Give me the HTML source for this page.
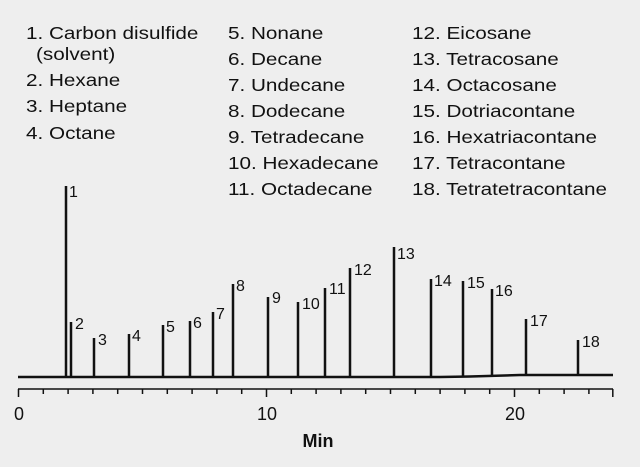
<!DOCTYPE html>
<html><head><style>
body{margin:0;background:#eeeeee;}
svg{display:block}
text{font-family:"Liberation Sans",sans-serif;fill:#111;}
</style></head><body>
<svg width="640" height="467" viewBox="0 0 640 467">
<rect width="640" height="467" fill="#eeeeee"/>
<g font-size="18" transform="translate(26,0) scale(1.15,1)">
<text x="0" y="39">1. Carbon disulfide</text>
<text x="8.7" y="60">(solvent)</text>
<text x="0" y="86">2. Hexane</text>
<text x="0" y="112">3. Heptane</text>
<text x="0" y="139">4. Octane</text>
</g>
<g font-size="18" transform="translate(228,0) scale(1.15,1)">
<text x="0" y="39">5. Nonane</text>
<text x="0" y="65">6. Decane</text>
<text x="0" y="91">7. Undecane</text>
<text x="0" y="117">8. Dodecane</text>
<text x="0" y="143">9. Tetradecane</text>
<text x="0" y="169">10. Hexadecane</text>
<text x="0" y="195">11. Octadecane</text>
</g>
<g font-size="18" transform="translate(412,0) scale(1.15,1)">
<text x="0" y="39">12. Eicosane</text>
<text x="0" y="65">13. Tetracosane</text>
<text x="0" y="91">14. Octacosane</text>
<text x="0" y="117">15. Dotriacontane</text>
<text x="0" y="143">16. Hexatriacontane</text>
<text x="0" y="169">17. Tetracontane</text>
<text x="0" y="195">18. Tetratetracontane</text>
</g>
<path d="M18 377 L440 377 L470 376.5 L520 375 L613 375" stroke="#111" stroke-width="2.5" fill="none"/>
<g stroke="#111" stroke-width="2.5">
<line x1="66" y1="377" x2="66" y2="186"/>
<line x1="71" y1="377" x2="71" y2="322"/>
<line x1="94" y1="377" x2="94" y2="338"/>
<line x1="129" y1="377" x2="129" y2="334"/>
<line x1="163" y1="377" x2="163" y2="325"/>
<line x1="190" y1="377" x2="190" y2="321"/>
<line x1="213" y1="377" x2="213" y2="312"/>
<line x1="233" y1="377" x2="233" y2="284"/>
<line x1="268" y1="377" x2="268" y2="297"/>
<line x1="298" y1="377" x2="298" y2="302"/>
<line x1="325" y1="377" x2="325" y2="288"/>
<line x1="350" y1="377" x2="350" y2="268"/>
<line x1="394" y1="377" x2="394" y2="247"/>
<line x1="431" y1="377" x2="431" y2="279"/>
<line x1="463" y1="377" x2="463" y2="281"/>
<line x1="492" y1="376" x2="492" y2="289"/>
<line x1="526" y1="375" x2="526" y2="319"/>
<line x1="578" y1="375" x2="578" y2="340"/>
</g>
<g font-size="16">
<text x="69" y="197">1</text>
<text x="75" y="329">2</text>
<text x="98" y="345">3</text>
<text x="132" y="341">4</text>
<text x="166" y="332">5</text>
<text x="193" y="328">6</text>
<text x="216" y="319">7</text>
<text x="236" y="291">8</text>
<text x="272" y="303">9</text>
<text x="302" y="309">10</text>
<text x="329" y="294">11</text>
<text x="354" y="275">12</text>
<text x="397" y="259">13</text>
<text x="434" y="286">14</text>
<text x="467" y="288">15</text>
<text x="495" y="296">16</text>
<text x="530" y="326">17</text>
<text x="582" y="347">18</text>
</g>
<path d="M18 389 H613" stroke="#111" stroke-width="1.5"/>
<g stroke="#111" stroke-width="1.5">
<line x1="18.5" y1="389" x2="18.5" y2="397"/>
<line x1="43.3" y1="389" x2="43.3" y2="394"/>
<line x1="68.1" y1="389" x2="68.1" y2="394"/>
<line x1="92.9" y1="389" x2="92.9" y2="394"/>
<line x1="117.7" y1="389" x2="117.7" y2="394"/>
<line x1="142.5" y1="389" x2="142.5" y2="394"/>
<line x1="167.3" y1="389" x2="167.3" y2="394"/>
<line x1="192.1" y1="389" x2="192.1" y2="394"/>
<line x1="216.9" y1="389" x2="216.9" y2="394"/>
<line x1="241.7" y1="389" x2="241.7" y2="394"/>
<line x1="266.5" y1="389" x2="266.5" y2="397"/>
<line x1="291.3" y1="389" x2="291.3" y2="394"/>
<line x1="316.1" y1="389" x2="316.1" y2="394"/>
<line x1="340.9" y1="389" x2="340.9" y2="394"/>
<line x1="365.7" y1="389" x2="365.7" y2="394"/>
<line x1="390.5" y1="389" x2="390.5" y2="394"/>
<line x1="415.3" y1="389" x2="415.3" y2="394"/>
<line x1="440.1" y1="389" x2="440.1" y2="394"/>
<line x1="464.9" y1="389" x2="464.9" y2="394"/>
<line x1="489.7" y1="389" x2="489.7" y2="394"/>
<line x1="514.5" y1="389" x2="514.5" y2="397"/>
<line x1="539.3" y1="389" x2="539.3" y2="394"/>
<line x1="564.1" y1="389" x2="564.1" y2="394"/>
<line x1="588.9" y1="389" x2="588.9" y2="394"/>
<line x1="612.8" y1="389" x2="612.8" y2="397"/>
</g>
<g font-size="18" text-anchor="middle">
<text x="19" y="420">0</text>
<text x="267" y="420">10</text>
<text x="515" y="420">20</text>
</g>
<text x="318" y="447" font-size="18" font-weight="bold" text-anchor="middle">Min</text>
</svg>
</body></html>
